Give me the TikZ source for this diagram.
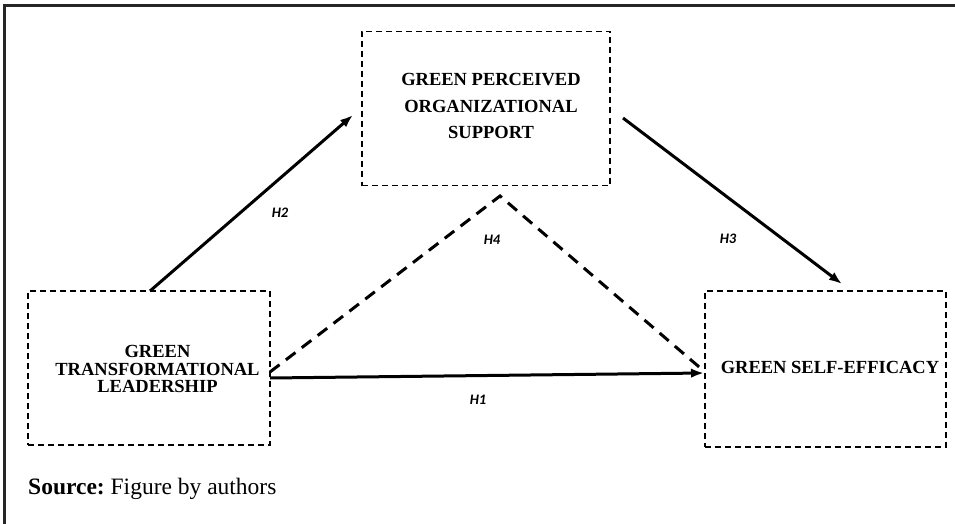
\documentclass[tikz,border=0pt]{standalone}
\usepackage{fontspec}
\setmainfont{Liberation Serif}
\newfontfamily\hfont{Carlito}
\usetikzlibrary{arrows.meta}
\tikzset{
  x=1pt, y=-1pt,
  varbox/.style={draw, line width=1.4pt, dash pattern=on 6pt off 4pt, inner sep=0pt},
  boxtext/.style={font=\bfseries\fontsize{18.5}{17.5}\selectfont, align=center, inner sep=0pt},
  hyp/.style={font=\hfont\bfseries\itshape\fontsize{14.5}{16}\selectfont, inner sep=0pt},
  solidarrow/.style={line width=3pt, -{Latex[length=13pt,width=9.5pt]}},
  dasharrow/.style={line width=3pt, dash pattern=on 12pt off 8pt},
}
\begin{document}
\begin{tikzpicture}
\useasboundingbox (0,0) rectangle (955,524);
\fill[white] (0,0) rectangle (955,524);
% frame
\draw[line width=3pt, black!85] (4.5,524) -- (4.5,5.5) -- (955,5.5);
% boxes
\node[varbox, minimum width=248pt, minimum height=154pt] (tbox) at (486,108.5) {};
\node[varbox, minimum width=242pt, minimum height=154pt] (lbox) at (149,368) {};
\node[varbox, minimum width=241pt, minimum height=156pt] (rbox) at (825.5,369) {};
% texts
\node[boxtext, font=\bfseries\fontsize{18.5}{26.3}\selectfont] (ttext) at (491,106) {GREEN PERCEIVED\\ORGANIZATIONAL\\SUPPORT};
\node[boxtext] (ltext) at (157.5,369) {GREEN\\TRANSFORMATIONAL\\LEADERSHIP};
\node[boxtext] (rtext) at (830,367) {GREEN SELF-EFFICACY};
% connector end points
\coordinate (h2s) at (150,291);
\coordinate (h2e) at (353,115);
\coordinate (h3s) at (623,118);
\coordinate (h3e) at (842,284);
\coordinate (h1s) at (270,378);
\coordinate (h1e) at (704,373);
\coordinate (h4s) at (270,372);
\coordinate (h4m) at (500,196);
\coordinate (h4e) at (705,372);
% connectors
\draw[solidarrow] (h2s) -- (h2e);
\draw[solidarrow] (h3s) -- (h3e);
\draw[solidarrow] (h1s) -- (h1e);
\draw[dasharrow] (h4s) -- (h4m) -- (h4e);
% hypothesis labels
\node[hyp] (H2) at (280,213) {H2};
\node[hyp] (H4) at (492,240) {H4};
\node[hyp] (H3) at (728,239) {H3};
\node[hyp] (H1) at (478,400) {H1};
% source
\node[anchor=west, inner sep=0pt, font=\fontsize{23.5}{26}\selectfont] (src) at (28,489) {\textbf{Source:}~Figure by authors};
\end{tikzpicture}
\end{document}
